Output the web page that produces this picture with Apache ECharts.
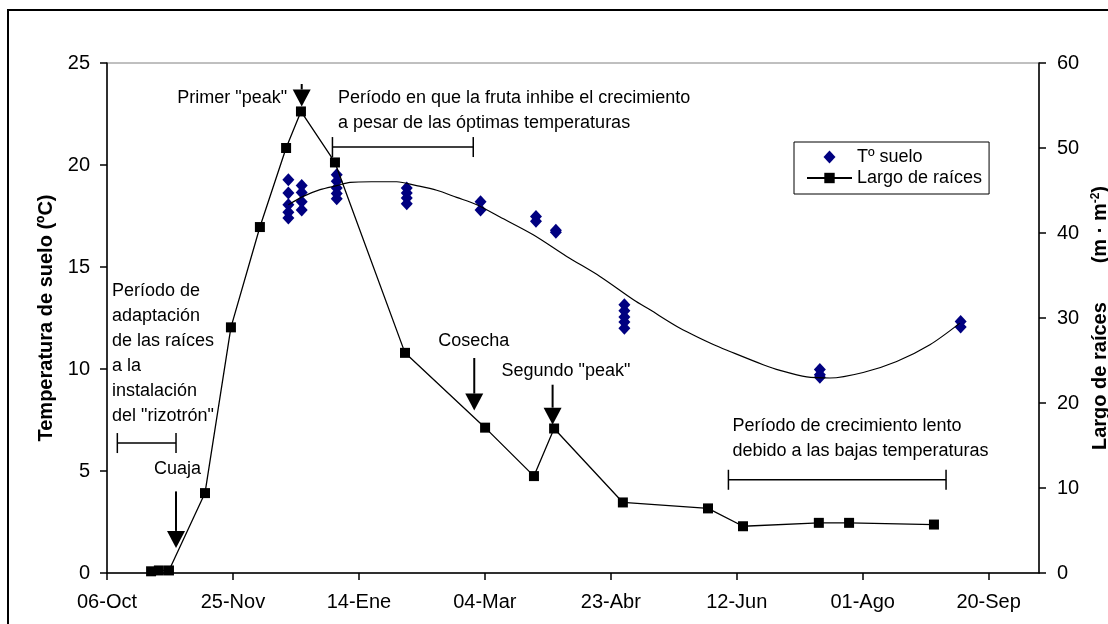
<!DOCTYPE html>
<html>
<head>
<meta charset="utf-8">
<script src="https://cdn.jsdelivr.net/npm/echarts@6.0.0/dist/echarts.min.js"></script>
<style>
  html, body { margin: 0; padding: 0; background: #fff; }
  #chart { width: 1108px; height: 624px; }
</style>
</head>
<body>
<div id="chart"></div>
<script>
// x values are days counted from 06-Oct, one tick every 50 days
var tickLabels = ['06-Oct', '25-Nov', '14-Ene', '04-Mar', '23-Abr', '12-Jun', '01-Ago', '20-Sep'];

// root length (m · m-2), right axis
var rootDays = [17.5, 20.6, 24.6, 38.9, 49.2, 60.7, 71.1, 77.0, 90.5, 118.3, 150.1, 169.5, 177.5, 204.8, 238.6, 252.5, 282.6, 294.6, 328.3];
var rootLength = [0.2, 0.3, 0.3, 9.4, 28.9, 40.7, 50.0, 54.3, 48.3, 25.9, 17.1, 11.4, 17.0, 8.3, 7.6, 5.5, 5.9, 5.9, 5.7];

// soil temperature readings (ºC), several per sampling day
var sampleDays = [72, 77.3, 91.2, 119, 148.3, 170.3, 178.2, 205.4, 283, 338.9];
var sampleTemps = [
  [19.28, 18.63, 18.05, 17.68, 17.40],
  [19.0, 18.65, 18.2, 17.8],
  [19.52, 19.2, 18.87, 18.6, 18.35],
  [18.87, 18.63, 18.38, 18.1],
  [18.2, 17.8],
  [17.48, 17.24],
  [16.8, 16.7],
  [13.15, 12.85, 12.55, 12.3, 12.0],
  [9.97, 9.72, 9.6],
  [12.33, 12.06]
];

// temperature trend curve
var trendDays = [72, 77.9, 84.6, 91.2, 96.5, 105, 115, 122.9, 130.9, 138.8, 146.8, 156, 169.2, 182.5, 195.7, 209, 215.6, 227.5, 240.7, 247.3, 260.5, 267.2, 277.8, 287, 300.2, 313.5, 326.7, 338.6];
var trendTemps = [18.05, 18.46, 18.79, 18.99, 19.15, 19.18, 19.18, 18.99, 18.76, 18.41, 18.05, 17.45, 16.58, 15.52, 14.54, 13.4, 12.9, 12.0, 11.2, 10.86, 10.21, 9.93, 9.61, 9.56, 9.83, 10.37, 11.19, 12.25];

var FONT = "'Liberation Sans', Arial, sans-serif";

var tempData = [];
sampleDays.forEach(function (d, i) {
  sampleTemps[i].forEach(function (t) { tempData.push([d, t]); });
});
var rootData = rootDays.map(function (d, i) { return [d, rootLength[i]]; });
var trendData = trendDays.map(function (d, i) { return [d, trendTemps[i]]; });
var tickValues = tickLabels.map(function (l, i) { return i * 50; });

// diamond centred in a 45x13 box so the legend icon keeps its shape
var legendDiamond = 'path://M0,6.5L0,6.5M22.5,0L28.5,6.5L22.5,13L16.5,6.5ZM45,6.5L45,6.5';

var chart = echarts.init(document.getElementById('chart'));

var option = {
  animation: false,
  backgroundColor: '#fff',
  grid: {
    left: 107, right: 69, top: 63, bottom: 51,
    outerBoundsMode: 'none',
    show: true, borderColor: '#808080', borderWidth: 1
  },
  legend: {
    left: 794, top: 142,
    orient: 'vertical',
    itemWidth: 45, itemHeight: 13, itemGap: 3,
    padding: [6, 7, 7, 12],
    borderColor: '#000', borderWidth: 1,
    backgroundColor: '#fff',
    textStyle: { fontSize: 18, fontFamily: FONT, color: '#000' },
    data: [{ name: 'Tº suelo', icon: legendDiamond }, { name: 'Largo de raíces' }]
  },
  xAxis: {
    type: 'value', min: 0, max: 370,
    axisLine: { lineStyle: { color: '#000', width: 1.5 } },
    axisTick: { length: 7, lineStyle: { color: '#000', width: 1.5 }, customValues: tickValues },
    axisLabel: {
      customValues: tickValues,
      margin: 19, fontSize: 20, fontFamily: FONT, color: '#000',
      formatter: function (v) { return tickLabels[Math.round(v / 50)] || ''; }
    },
    splitLine: { show: false }
  },
  yAxis: [
    {
      type: 'value', min: 0, max: 25, interval: 5,
      name: 'Temperatura de suelo (ºC)',
      nameLocation: 'middle', nameGap: 48,
      nameTextStyle: { fontSize: 20, fontWeight: 'bold', fontFamily: FONT, color: '#000' },
      axisLine: { show: true, lineStyle: { color: '#000', width: 1.5 } },
      axisTick: { show: true, length: 7, lineStyle: { color: '#000', width: 1.5 } },
      axisLabel: { margin: 17, fontSize: 20, fontFamily: FONT, color: '#000' },
      splitLine: { show: false }
    },
    {
      type: 'value', min: 0, max: 60, interval: 10, position: 'right',
      name: 'Largo de raíces       (m · m{sup|-2})',
      nameLocation: 'middle', nameGap: 50,
      nameTextStyle: {
        fontSize: 20, fontWeight: 'bold', fontFamily: FONT, color: '#000',
        rich: { sup: { fontSize: 12, fontWeight: 'bold', fontFamily: FONT, color: '#000', verticalAlign: 'top' } }
      },
      axisLine: { show: true, lineStyle: { color: '#000', width: 1.5 } },
      axisTick: { show: true, length: 7, lineStyle: { color: '#000', width: 1.5 } },
      axisLabel: { margin: 18, fontSize: 20, fontFamily: FONT, color: '#000' },
      splitLine: { show: false }
    }
  ],
  series: [
    {
      name: 'Tº suelo', type: 'scatter', yAxisIndex: 0,
      symbol: 'diamond', symbolSize: [12, 13],
      itemStyle: { color: '#000080', opacity: 1 },
      data: tempData, z: 2
    },
    {
      name: 'tendencia', type: 'line', yAxisIndex: 0,
      symbol: 'none', smooth: 0.3, silent: true,
      lineStyle: { color: '#000', width: 1.2 },
      data: trendData, z: 3
    },
    {
      name: 'Largo de raíces', type: 'line', yAxisIndex: 1,
      symbol: 'rect', symbolSize: 10,
      itemStyle: { color: '#000' },
      lineStyle: { color: '#000', width: 1.3 },
      data: rootData, z: 4
    }
  ]
};
chart.setOption(option);

// annotations, placed in (day, ºC) coordinates
var notes = [
  { day: 71.5, t: 23.3, align: 'right', lines: ['Primer "peak"'] },
  { day: 91.7, t: 23.28, align: 'left', lines: ['Período en que la fruta inhibe el crecimiento', 'a pesar de las óptimas temperaturas'] },
  { day: 2.0, t: 13.8, align: 'left', lines: ['Período de', 'adaptación', 'de las raíces', 'a la', 'instalación', 'del "rizotrón"'] },
  { day: 28.0, t: 5.1, align: 'center', lines: ['Cuaja'] },
  { day: 145.6, t: 11.35, align: 'center', lines: ['Cosecha'] },
  { day: 182.2, t: 9.92, align: 'center', lines: ['Segundo "peak"'] },
  { day: 248.3, t: 7.19, align: 'left', lines: ['Período de crecimiento lento', 'debido a las bajas temperaturas'] }
];
var arrows = [
  { day: 77.3, from: 23.97, to: 22.87 },
  { day: 27.4, from: 4.0, to: 1.23 },
  { day: 145.8, from: 10.54, to: 7.96 },
  { day: 176.9, from: 9.23, to: 7.27 }
];
var brackets = [
  { from: 89.5, to: 145.4, t: 20.88 },
  { from: 4.1, to: 27.4, t: 6.37 },
  { from: 246.7, to: 333.1, t: 4.57 }
];

function px(day, t) {
  return chart.convertToPixel({ xAxisIndex: 0, yAxisIndex: 0 }, [day, t]);
}

var els = [];
els.push({
  type: 'rect', silent: true, z: 0,
  shape: { x: 8, y: 10, width: 1200, height: 700 },
  style: { fill: 'none', stroke: '#000', lineWidth: 2 }
});
notes.forEach(function (n) {
  var p = px(n.day, n.t);
  n.lines.forEach(function (line, i) {
    els.push({
      type: 'text', silent: true, z: 10,
      x: p[0], y: p[1] + i * 25,
      style: { text: line, fontSize: 18, fontFamily: FONT, fill: '#000', align: n.align, verticalAlign: 'middle' }
    });
  });
});
arrows.forEach(function (a) {
  var s = px(a.day, a.from), e = px(a.day, a.to);
  var headTop = e[1] - 17;
  els.push({
    type: 'line', silent: true, z: 10,
    shape: { x1: s[0], y1: s[1], x2: e[0], y2: headTop },
    style: { stroke: '#000', lineWidth: 2 }
  });
  els.push({
    type: 'polygon', silent: true, z: 10,
    shape: { points: [[e[0] - 9, headTop], [e[0] + 9, headTop], [e[0], e[1]]] },
    style: { fill: '#000' }
  });
});
brackets.forEach(function (b) {
  var s = px(b.from, b.t), e = px(b.to, b.t);
  els.push({
    type: 'line', silent: true, z: 10,
    shape: { x1: s[0], y1: s[1], x2: e[0], y2: e[1] },
    style: { stroke: '#000', lineWidth: 1.5 }
  });
  [s, e].forEach(function (p) {
    els.push({
      type: 'line', silent: true, z: 10,
      shape: { x1: p[0], y1: p[1] - 10, x2: p[0], y2: p[1] + 10 },
      style: { stroke: '#000', lineWidth: 1.5 }
    });
  });
});
chart.setOption({ graphic: els });
</script>
</body>
</html>
